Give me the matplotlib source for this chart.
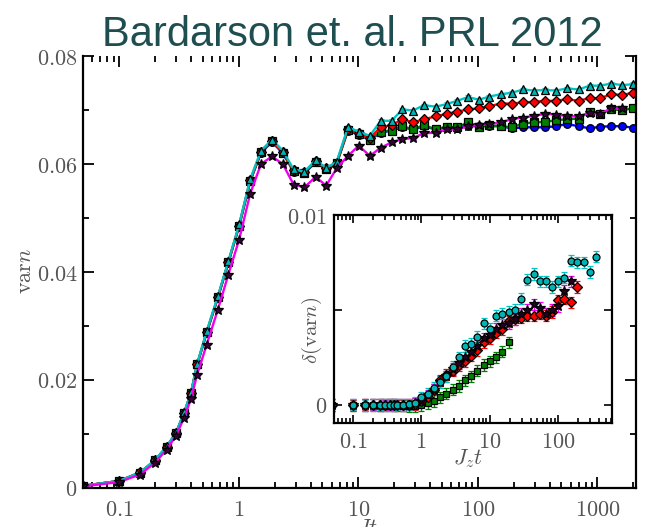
import numpy as np
import matplotlib
matplotlib.use('Agg')
import matplotlib.pyplot as plt
from matplotlib.ticker import (FixedLocator, FixedFormatter, NullFormatter,
                               LogLocator, MultipleLocator)

plt.rcParams['mathtext.fontset'] = 'cm'
plt.rcParams['font.family'] = ['DejaVu Serif']

# ---------------- data ----------------
t_grid = [0.05, 0.1, 0.15, 0.2, 0.25, 0.3, 0.35, 0.4, 0.45, 0.54, 0.67, 0.82,
          1.01, 1.25, 1.54, 1.9, 2.34, 2.88, 3.55, 4.4, 5.4, 6.6, 8.2, 10.1,
          12.5, 15.4, 19, 23.4, 28.7, 35.5, 44.4, 54.8, 67.2, 83, 102, 125,
          155, 193, 239, 293, 366, 453, 555, 695, 858, 1053, 1300, 1616, 1995]

var_cyan = [0.0004, 0.0013, 0.0029, 0.0052, 0.0077, 0.0103, 0.0140, 0.0177,
            0.0230, 0.0290, 0.0355, 0.0420, 0.0488, 0.0572, 0.0625, 0.0645,
            0.0625, 0.0590, 0.0586, 0.0607, 0.0593, 0.0604, 0.0668, 0.0660,
            0.0652, 0.0680, 0.0680, 0.0701, 0.0699, 0.0709, 0.0706, 0.0711,
            0.0717, 0.0724, 0.0719, 0.0725, 0.0729, 0.0732, 0.0738, 0.0736,
            0.0737, 0.0736, 0.0740, 0.0738, 0.0745, 0.0745, 0.0749, 0.0746,
            0.0748]
var_red = [0.0004, 0.0013, 0.0029, 0.0051, 0.0076, 0.0102, 0.0139, 0.0176,
           0.0229, 0.0288, 0.0353, 0.0418, 0.0486, 0.0570, 0.0623, 0.0643,
           0.0622, 0.0588, 0.0585, 0.0605, 0.0592, 0.0602, 0.0665, 0.0657,
           0.0648, 0.0668, 0.0672, 0.0683, 0.0677, 0.0683, 0.0688, 0.0693,
           0.0697, 0.0701, 0.0703, 0.0707, 0.0712, 0.0712, 0.0714, 0.0715,
           0.0717, 0.0717, 0.0720, 0.0717, 0.0722, 0.0722, 0.0729, 0.0728,
           0.0732]
var_green = [0.0004, 0.0013, 0.0028, 0.0051, 0.0076, 0.0102, 0.0139, 0.0176,
             0.0229, 0.0288, 0.0353, 0.0418, 0.0486, 0.0569, 0.0622, 0.0642,
             0.0621, 0.0587, 0.0584, 0.0604, 0.0591, 0.0601, 0.0663, 0.0655,
             0.0645, 0.0660, 0.0662, 0.0670, 0.0664, 0.0672, 0.0664, 0.0669,
             0.0668, 0.0677, 0.0669, 0.0672, 0.0670, 0.0668, 0.0675, 0.0677,
             0.0678, 0.0681, 0.0683, 0.0684, 0.0697, 0.0693, 0.0701, 0.0700,
             0.0703]
var_blue = [0.0004, 0.0013, 0.0028, 0.0051, 0.0076, 0.0101, 0.0138, 0.0175,
            0.0228, 0.0287, 0.0352, 0.0417, 0.0485, 0.0568, 0.0621, 0.0641,
            0.0620, 0.0586, 0.0583, 0.0603, 0.0590, 0.0600, 0.0662, 0.0654,
            0.0645, 0.0658, 0.0662, 0.0668, 0.0664, 0.0670, 0.0664, 0.0668,
            0.0667, 0.0670, 0.0670, 0.0670, 0.0670, 0.0666, 0.0668, 0.0668,
            0.0668, 0.0670, 0.0674, 0.0670, 0.0666, 0.0669, 0.0670, 0.0670,
            0.0667]
var_magenta = [0.0003, 0.0011, 0.0025, 0.0047, 0.0071, 0.0097, 0.0130, 0.0165,
               0.0210, 0.0265, 0.0330, 0.0395, 0.0460, 0.0545, 0.0600, 0.0614,
               0.0600, 0.0562, 0.0557, 0.0576, 0.0560, 0.0592, 0.0615, 0.0634,
               0.0615, 0.0630, 0.0640, 0.0646, 0.0648, 0.0657, 0.0658, 0.0664,
               0.0664, 0.0670, 0.0672, 0.0674, 0.0677, 0.0683, 0.0686, 0.0689,
               0.0693, 0.0691, 0.0689, 0.0688, 0.0695, 0.0693, 0.0703, 0.0703]
err_main = 0.0003

# inset: delta(var n) vs J_z t (same time grid, shorter runs)
dvar_cyan = [0.0, 0.00002, -0.00002, 0.0, 0.00001, 0.0, -0.00001, 0.0, 0.00002,
             0.0, 0.00003, 0.0001, 0.0004, 0.0006, 0.0009, 0.0012, 0.0015,
             0.0020, 0.0025, 0.0031, 0.0032, 0.0036, 0.0043, 0.0040, 0.0047,
             0.0048, 0.0049, 0.0050, 0.0056, 0.0066, 0.0069, 0.0065, 0.0065,
             0.0062, 0.0065, 0.0067, 0.0076, 0.0075, 0.0075, 0.0070, 0.0078]
dvar_red = [0.0, -0.00002, 0.00001, 0.0, -0.00001, 0.00002, 0.0, 0.00001,
            -0.00002, 0.0, 0.00002, 0.00005, 0.0002, 0.0004, 0.0008, 0.0013,
            0.0016, 0.0018, 0.0021, 0.0023, 0.0026, 0.0029, 0.0033, 0.0035,
            0.0038, 0.0040, 0.0044, 0.0045, 0.0046, 0.0047, 0.0047, 0.0048,
            0.0047, 0.0049, 0.0055, 0.0056, 0.0054, 0.0062]
dvar_magenta = [0.0, 0.00001, -0.00001, 0.00002, 0.0, -0.00002, 0.00001, 0.0,
                0.00001, -0.00001, 0.00002, 0.00008, 0.0002, 0.0005, 0.0008,
                0.0012, 0.0015, 0.0019, 0.0022, 0.0025, 0.0028, 0.0031, 0.0035,
                0.0037, 0.0040, 0.0042, 0.0043, 0.0045, 0.0048, 0.0050, 0.0053,
                0.0051, 0.0048, 0.0050, 0.0052, 0.0060, 0.0065]
dvar_green = [0.0, -0.00002, 0.0, 0.00001, -0.00001, 0.0, 0.00002, -0.00002,
              0.0, -0.00003, -0.00005, -0.00005, 0.0, 0.0001, 0.0002, 0.0004,
              0.0006, 0.0008, 0.0010, 0.0013, 0.0015, 0.0018, 0.0021, 0.0023,
              0.0025, 0.0028, 0.0033]
err_inset = 0.0003

main_xticks = [0.1, 1, 10, 100, 1000]
main_xlabels = ['$0.1$', '$1$', '$10$', '$100$', '$1000$']
main_yticks = [0, 0.02, 0.04, 0.06, 0.08]
main_ylabels = ['$0$', '$0.02$', '$0.04$', '$0.06$', '$0.08$']
inset_xticks = [0.1, 1, 10, 100]
inset_xlabels = ['$0.1$', '$1$', '$10$', '$100$']
inset_yticks = [0, 0.005, 0.01]
inset_ylabels = ['$0$', '', '$0.01$']

# ---------------- figure ----------------
W, H = 646, 527
fig = plt.figure(figsize=(W / 100, H / 100), dpi=100)
fig.patch.set_facecolor('white')

ax = fig.add_axes([83 / W, 1 - 488 / H, (636 - 83) / W, (488 - 56) / H])
ax.set_xscale('log')

main_series = [
    (var_blue, 'blue', 'o', 'blue'),
    (var_green, '#008000', 's', '#008000'),
    (var_red, 'red', 'D', 'red'),
    (var_cyan, '#00c4c4', '^', '#00b4b4'),
    (var_magenta, '#ee00ee', '*', '#3a003a'),
]
for vals, col, mk, fc in main_series:
    n = len(vals)
    ax.errorbar(t_grid[:n], vals, yerr=err_main, color=col, ecolor=col,
                marker=mk, mfc=fc, mec='black', mew=0.9,
                ms=(7.5 if mk == '*' else 5.5), lw=1.7, elinewidth=1.0,
                capsize=2, capthick=1.0)

ax.set_xlim(0.05, 2100)
ax.set_ylim(0, 0.08)
ax.xaxis.set_major_locator(FixedLocator(main_xticks))
ax.xaxis.set_major_formatter(FixedFormatter(main_xlabels))
ax.xaxis.set_minor_locator(LogLocator(base=10, subs=np.arange(2, 10), numticks=30))
ax.xaxis.set_minor_formatter(NullFormatter())
ax.yaxis.set_major_locator(FixedLocator(main_yticks))
ax.yaxis.set_major_formatter(FixedFormatter(main_ylabels))
ax.yaxis.set_minor_locator(MultipleLocator(0.01))
ax.tick_params(which='both', direction='in', top=True, right=True,
               width=1.3, labelsize=16, labelcolor='#555555')
ax.tick_params(which='major', length=8)
ax.tick_params(which='minor', length=4)
ax.tick_params(axis='x', pad=8)
ax.tick_params(axis='y', pad=4)
for s in ax.spines.values():
    s.set_linewidth(1.6)
ax.spines['top'].set_visible(False)

fig.text(25 / W, 1 - 271 / H, r'$\mathrm{var}n$', rotation=90, ha='center',
         va='center', fontsize=16, color='#555555')
fig.text(367 / W, 1 - 516 / H, r'$Jt$', ha='center', va='top', fontsize=16,
         color='#555555')

# ---------------- inset ----------------
axin = fig.add_axes([334 / W, 1 - 423 / H, (612 - 334) / W, (423 - 215) / H])
axin.set_xscale('log')
axin.set_facecolor('white')
inset_series = [
    (dvar_green, '#008000', 's', '#008000'),
    (dvar_red, 'red', 'D', 'red'),
    (dvar_magenta, '#ee00ee', '*', '#220022'),
    (dvar_cyan, '#00c4c4', 'o', '#00b4b4'),
]
for vals, col, mk, fc in inset_series:
    n = len(vals)
    axin.errorbar(t_grid[:n], vals, yerr=err_inset, color=col, ecolor=col,
                  marker=mk, mfc=fc, mec='black', mew=0.9, ls='none',
                  ms=(7 if mk == '*' else 5), elinewidth=1.0, capsize=2.5,
                  capthick=1.0)
axin.set_xlim(0.053, 620)
axin.set_ylim(-0.00095, 0.01)
axin.xaxis.set_major_locator(FixedLocator(inset_xticks))
axin.xaxis.set_major_formatter(FixedFormatter(inset_xlabels))
axin.xaxis.set_minor_locator(LogLocator(base=10, subs=np.arange(2, 10), numticks=30))
axin.xaxis.set_minor_formatter(NullFormatter())
axin.yaxis.set_major_locator(FixedLocator(inset_yticks))
axin.yaxis.set_major_formatter(FixedFormatter(inset_ylabels))
axin.tick_params(which='both', direction='in', top=True, right=True,
                 width=1.2, labelsize=16, labelcolor='#555555')
axin.tick_params(which='major', length=6)
axin.tick_params(which='minor', length=3.5)
axin.tick_params(axis='x', pad=6)
axin.tick_params(axis='y', pad=5)
for s in axin.spines.values():
    s.set_linewidth(1.6)

fig.text(312 / W, 1 - 330 / H, r'$\delta(\mathrm{var}n)$', rotation=90,
         ha='center', va='center', fontsize=15, color='#555555')
fig.text(468 / W, 1 - 459 / H, r'$J_z t$', ha='center', va='center',
         fontsize=16, color='#555555')

# ---------------- title ----------------
fig.text(352 / W, 1 - 46 / H, 'Bardarson et. al. PRL 2012', ha='center',
         va='baseline', fontsize=30, color='#1f4e50',
         family=['Liberation Sans', 'DejaVu Sans'])

fig.savefig('out.png', dpi=100, facecolor='white')
